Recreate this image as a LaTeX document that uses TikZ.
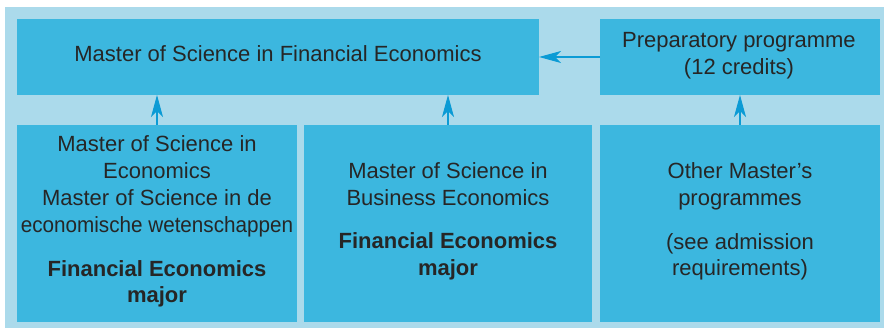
\documentclass[tikz,border=0pt]{standalone}
\usepackage{fontspec}
\setmainfont{Liberation Sans}
\usetikzlibrary{arrows.meta}
\definecolor{panel}{HTML}{ABDAEB}
\definecolor{boxfill}{HTML}{3CB7DF}
\definecolor{arrowblue}{HTML}{0B9BD5}
\definecolor{ink}{HTML}{262626}
\begin{document}
\begin{tikzpicture}[x=1pt,y=-1pt,
  block/.style={fill=boxfill,draw=none,inner sep=0pt,outer sep=0pt},
  txt/.style={anchor=base,inner sep=0pt,text=ink,font=\fontsize{22}{27}\selectfont},
  btxt/.style={txt,font=\fontsize{22}{27}\selectfont\bfseries},
  link/.style={draw=arrowblue,line width=1.1pt,
    -{Stealth[length=22pt,width=12pt,inset=6pt]}}]
\useasboundingbox (0,0) rectangle (884,328);
\fill[panel] (5,7) rectangle (884,328);

% boxes
\node[block,minimum width=522pt,minimum height=76pt] (msc) at (278,57) {};
\node[block,minimum width=280pt,minimum height=76pt] (prep) at (740,57) {};
\node[block,minimum width=280pt,minimum height=197pt] (econ) at (157,223.5) {};
\node[block,minimum width=288pt,minimum height=197pt] (bus) at (448,223.5) {};
\node[block,minimum width=280pt,minimum height=197pt] (other) at (740,223.5) {};

% top row texts
\node[txt] (t0) at (278,62) {Master of Science in Financial Economics};
\node[txt] (p1) at (739,48) {Preparatory programme};
\node[txt] (p2) at (739,75) {(12 credits)};

% left column texts
\node[txt] (e1) at (157,152) {Master of Science in};
\node[txt] (e2) at (157,179) {Economics};
\node[txt] (e3) at (157,206) {Master of Science in de};
\node[txt] (e4) at (157,233) {\scalebox{0.94}[1]{economische wetenschappen}};
\node[btxt] (e5) at (157,277) {Financial Economics};
\node[btxt] (e6) at (157,303) {major};

% middle column texts
\node[txt] (b1) at (448,179) {Master of Science in};
\node[txt] (b2) at (448,206) {Business Economics};
\node[btxt] (b3) at (448,249) {Financial Economics};
\node[btxt] (b4) at (448,276) {major};

% right column texts
\node[txt] (o1) at (740,179) {Other Master’s};
\node[txt] (o2) at (740,206) {programmes};
\node[txt] (o3) at (740,250) {(see admission};
\node[txt] (o4) at (740,276) {requirements)};

% connectors
\draw[link] (econ.north) -- (econ.north |- msc.south);
\draw[link] (bus.north) -- (bus.north |- msc.south);
\draw[link] (other.north) -- (prep.south);
\draw[link] (prep.west) -- (msc.east);
\end{tikzpicture}
\end{document}
